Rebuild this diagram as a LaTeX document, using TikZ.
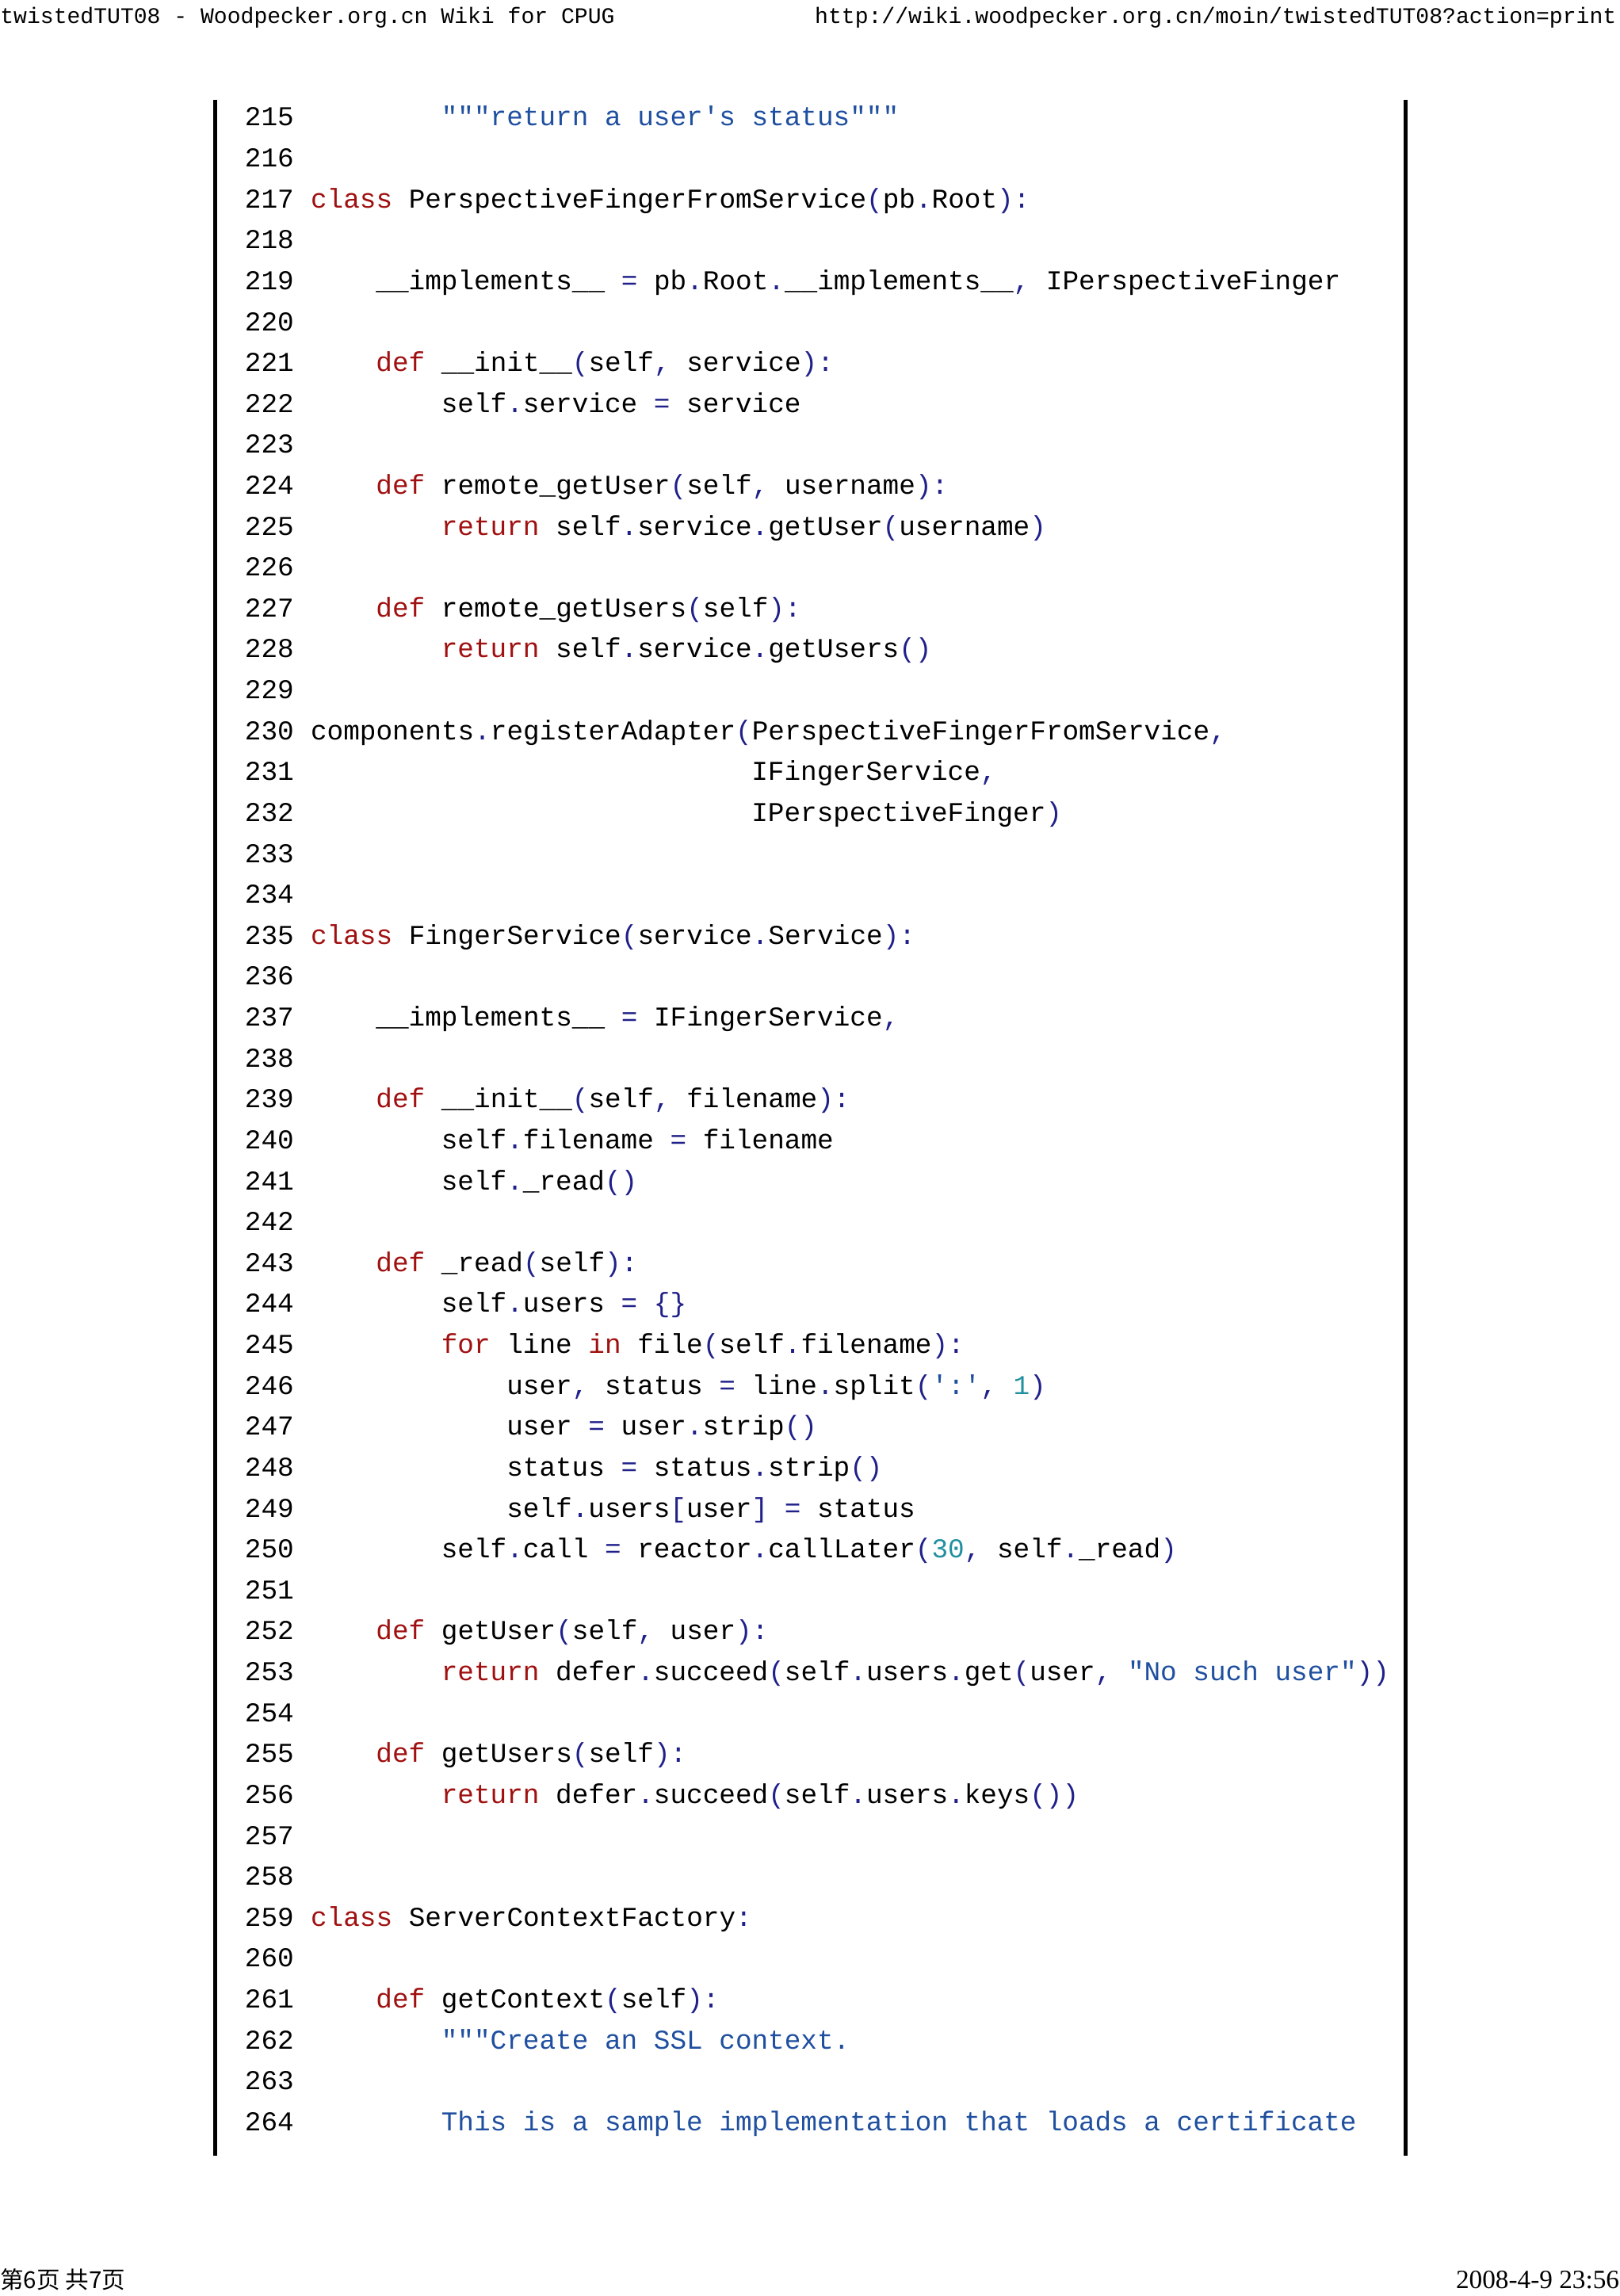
\documentclass[tikz,border=0pt]{standalone}
\usepackage{fontspec}
\setmainfont{Liberation Serif}
\setmonofont{Liberation Mono}
\newfontfamily\cjk{Noto Sans CJK SC}
\definecolor{kw}{HTML}{A01010}
\definecolor{pu}{HTML}{20208A}
\definecolor{st}{HTML}{1F4F9F}
\definecolor{nu}{HTML}{2090A0}
\newcommand\Kw[1]{\textcolor{kw}{#1}}
\newcommand\Pu[1]{\textcolor{pu}{#1}}
\newcommand\Sq[1]{\textcolor{st}{#1}}
\newcommand\Nm[1]{\textcolor{nu}{#1}}
\newcommand\cl[3]{\node[code] (c#2) at ({212+#1*11.15},{-86-(#2-215)*27.94}) {#3};}
\begin{document}
\begin{tikzpicture}[x=1pt,y=1pt,
  code/.style={anchor=base west,inner sep=0pt,font=\ttfamily\fontsize{18.6}{20}\selectfont},
  rule/.style={line width=2.6pt,black}]
\useasboundingbox[fill=white] (0,0) rectangle (1106,-1568);
\node[anchor=base west,inner sep=0pt,font=\ttfamily\fontsize{15.2}{17}\selectfont] (hl) at (0,-16) {twistedTUT08 - Woodpecker.org.cn Wiki for CPUG};
\node[anchor=base east,inner sep=0pt,font=\ttfamily\fontsize{15.2}{17}\selectfont] (hr) at (1104,-16) {http://wiki.woodpecker.org.cn/moin/twistedTUT08?action=print};
\node[anchor=base west,inner sep=0pt,font=\cjk\fontsize{16}{18}\selectfont] (fl) at (0,-1563) {第6页 共7页};
\node[anchor=base east,inner sep=0pt,font=\fontsize{18}{20}\selectfont] (fr) at (1106,-1563) {2008-4-9 23:56};
\coordinate (lt) at (147,-68); \coordinate (lb) at (147,-1472);
\coordinate (rt) at (960,-68); \coordinate (rb) at (960,-1472);
\draw[rule] (lt) -- (lb);
\draw[rule] (rt) -- (rb);
\foreach \n in {215,...,264}{
  \node[code] (n\n) at (167,{-86-(\n-215)*27.94}) {\n};
}
\cl{8}{215}{\Sq{"""return a user's status"""}}
\cl{0}{217}{\Kw{class} PerspectiveFingerFromService\Pu{(}pb\Pu{.}Root\Pu{):}}
\cl{4}{219}{\_\_implements\_\_ \Pu{=} pb\Pu{.}Root\Pu{.}\_\_implements\_\_\Pu{,} IPerspectiveFinger}
\cl{4}{221}{\Kw{def} \_\_init\_\_\Pu{(}self\Pu{,} service\Pu{):}}
\cl{8}{222}{self\Pu{.}service \Pu{=} service}
\cl{4}{224}{\Kw{def} remote\_getUser\Pu{(}self\Pu{,} username\Pu{):}}
\cl{8}{225}{\Kw{return} self\Pu{.}service\Pu{.}getUser\Pu{(}username\Pu{)}}
\cl{4}{227}{\Kw{def} remote\_getUsers\Pu{(}self\Pu{):}}
\cl{8}{228}{\Kw{return} self\Pu{.}service\Pu{.}getUsers\Pu{()}}
\cl{0}{230}{components\Pu{.}registerAdapter\Pu{(}PerspectiveFingerFromService\Pu{,}}
\cl{27}{231}{IFingerService\Pu{,}}
\cl{27}{232}{IPerspectiveFinger\Pu{)}}
\cl{0}{235}{\Kw{class} FingerService\Pu{(}service\Pu{.}Service\Pu{):}}
\cl{4}{237}{\_\_implements\_\_ \Pu{=} IFingerService\Pu{,}}
\cl{4}{239}{\Kw{def} \_\_init\_\_\Pu{(}self\Pu{,} filename\Pu{):}}
\cl{8}{240}{self\Pu{.}filename \Pu{=} filename}
\cl{8}{241}{self\Pu{.}\_read\Pu{()}}
\cl{4}{243}{\Kw{def} \_read\Pu{(}self\Pu{):}}
\cl{8}{244}{self\Pu{.}users \Pu{=} \Pu{\{\}}}
\cl{8}{245}{\Kw{for} line \Kw{in} file\Pu{(}self\Pu{.}filename\Pu{):}}
\cl{12}{246}{user\Pu{,} status \Pu{=} line\Pu{.}split\Pu{(}\Sq{':'}\Pu{,} \Nm{1}\Pu{)}}
\cl{12}{247}{user \Pu{=} user\Pu{.}strip\Pu{()}}
\cl{12}{248}{status \Pu{=} status\Pu{.}strip\Pu{()}}
\cl{12}{249}{self\Pu{.}users\Pu{[}user\Pu{]} \Pu{=} status}
\cl{8}{250}{self\Pu{.}call \Pu{=} reactor\Pu{.}callLater\Pu{(}\Nm{30}\Pu{,} self\Pu{.}\_read\Pu{)}}
\cl{4}{252}{\Kw{def} getUser\Pu{(}self\Pu{,} user\Pu{):}}
\cl{8}{253}{\Kw{return} defer\Pu{.}succeed\Pu{(}self\Pu{.}users\Pu{.}get\Pu{(}user\Pu{,} \Sq{"No such user"}\Pu{))}}
\cl{4}{255}{\Kw{def} getUsers\Pu{(}self\Pu{):}}
\cl{8}{256}{\Kw{return} defer\Pu{.}succeed\Pu{(}self\Pu{.}users\Pu{.}keys\Pu{())}}
\cl{0}{259}{\Kw{class} ServerContextFactory\Pu{:}}
\cl{4}{261}{\Kw{def} getContext\Pu{(}self\Pu{):}}
\cl{8}{262}{\Sq{"""Create an SSL context.}}
\cl{8}{264}{\Sq{This is a sample implementation that loads a certificate}}
\end{tikzpicture}
\end{document}
